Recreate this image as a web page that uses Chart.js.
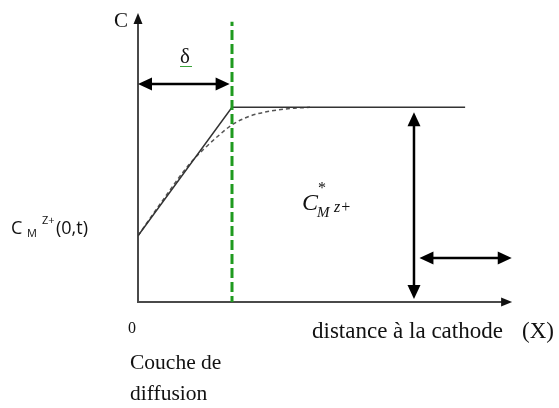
<!DOCTYPE html>
<html>
<head>
<meta charset="utf-8">
<script src="https://cdn.jsdelivr.net/npm/chart.js@4.4.1/dist/chart.umd.min.js"></script>
<style>
  html, body { margin: 0; padding: 0; background: #fff; }
  #wrap { width: 559px; height: 408px; position: relative; }
</style>
</head>
<body>
<div id="wrap"><canvas id="cChart"></canvas></div>
<script>
// concentration profile, x in units of delta, y in units of C*
const xSolid = [0, 1, 3.48];
const ySolid = [0.34, 1, 1];
const xDashed = [0, 0.23, 0.55, 0.71, 0.87, 1.0, 1.19, 1.4, 1.62, 1.83];
const yDashed = [0.34, 0.50, 0.71, 0.79, 0.86, 0.91, 0.955, 0.98, 0.994, 1.0];
const xDelta = [1, 1];
const yDelta = [-0.02, 1.44];

// arrows: [x1, y1, x2, y2, head at start, head at end]
const arrows = [
    [0, 1.12, 0.975, 1.12, true, true],     // delta
    [2.936, 0.975, 2.936, 0.015, true, true], // C*
    [2.994, 0.226, 3.976, 0.226, true, true]
];

function pts(xs, ys) {
    return xs.map((x, i) => ({x: x, y: ys[i]}));
}

function arrowHead(ctx, x1, y1, x2, y2, len, wid) {
    const a = Math.atan2(y2 - y1, x2 - x1);
    ctx.beginPath();
    ctx.moveTo(x2, y2);
    ctx.lineTo(x2 - len * Math.cos(a) + wid / 2 * Math.sin(a), y2 - len * Math.sin(a) - wid / 2 * Math.cos(a));
    ctx.lineTo(x2 - len * Math.cos(a) - wid / 2 * Math.sin(a), y2 - len * Math.sin(a) + wid / 2 * Math.cos(a));
    ctx.closePath();
    ctx.fill();
}

const diagram = {
    id: 'diagram',
    beforeDatasetsDraw(chart) {
        const ctx = chart.ctx;
        const sx = chart.scales.x, sy = chart.scales.y;
        const x0 = sx.getPixelForValue(0), y0 = sy.getPixelForValue(0);
        const xEnd = sx.getPixelForValue(3.98), yTop = sy.getPixelForValue(1.485);
        ctx.save();
        ctx.strokeStyle = '#4a4a4a';
        ctx.fillStyle = '#111';
        ctx.lineWidth = 2;
        ctx.beginPath();
        ctx.moveTo(x0, yTop + 8);
        ctx.lineTo(x0, y0);
        ctx.lineTo(xEnd - 8, y0);
        ctx.stroke();
        arrowHead(ctx, x0, y0, x0, yTop, 11, 9);
        arrowHead(ctx, x0, y0, xEnd, y0, 11, 9);
        ctx.restore();
    },
    afterDraw(chart) {
        const ctx = chart.ctx;
        const sx = chart.scales.x, sy = chart.scales.y;
        ctx.save();
        ctx.strokeStyle = '#000';
        ctx.fillStyle = '#000';
        ctx.lineWidth = 2.5;
        arrows.forEach(a => {
            const p1x = sx.getPixelForValue(a[0]), p1y = sy.getPixelForValue(a[1]);
            const p2x = sx.getPixelForValue(a[2]), p2y = sy.getPixelForValue(a[3]);
            const ang = Math.atan2(p2y - p1y, p2x - p1x);
            ctx.beginPath();
            ctx.moveTo(p1x + (a[4] ? 10 * Math.cos(ang) : 0), p1y + (a[4] ? 10 * Math.sin(ang) : 0));
            ctx.lineTo(p2x - (a[5] ? 10 * Math.cos(ang) : 0), p2y - (a[5] ? 10 * Math.sin(ang) : 0));
            ctx.stroke();
            if (a[4]) arrowHead(ctx, p2x, p2y, p1x, p1y, 14, 13);
            if (a[5]) arrowHead(ctx, p1x, p1y, p2x, p2y, 14, 13);
        });

        // labels
        ctx.fillStyle = '#111';
        ctx.textBaseline = 'alphabetic';
        ctx.font = '21px "Liberation Serif"';
        ctx.fillText('C', 114, 27);
        ctx.fillText('δ', 180, 63);
        ctx.font = '21.5px "Liberation Serif"';
        ctx.fillText('Couche de', 130, 369);
        ctx.fillText('diffusion', 130, 400);
        ctx.font = '23px "Liberation Serif"';
        ctx.fillText('distance à la cathode', 312, 338);
        ctx.fillText('(X)', 522, 338);
        ctx.font = '16px "Liberation Serif"';
        ctx.fillText('0', 128, 333);

        // spell-check squiggle under delta
        ctx.strokeStyle = '#3aa33a';
        ctx.lineWidth = 1;
        ctx.beginPath();
        for (let i = 0; i <= 12; i++) {
            const px = 180 + i, py = 66 + (i % 2 ? 1 : 0);
            if (i === 0) ctx.moveTo(px, py); else ctx.lineTo(px, py);
        }
        ctx.stroke();

        // bulk concentration C*_M^z+
        ctx.font = 'italic 24px "Liberation Serif"';
        ctx.fillText('C', 302, 210);
        ctx.font = 'italic 15px "Liberation Serif"';
        ctx.fillText('M', 317, 217);
        ctx.font = 'italic 16px "Liberation Serif"';
        ctx.fillText('z+', 334, 212);
        ctx.font = '16px "Liberation Serif"';
        ctx.fillText('*', 318, 193);

        // surface concentration C_M^Z+(0,t)
        ctx.font = '18px "Open Sans"';
        ctx.fillText('C', 11, 234);
        ctx.font = '11px "Open Sans"';
        ctx.fillText('M', 27, 237);
        ctx.fillText('Z+', 42, 224);
        ctx.font = '18px "Open Sans"';
        ctx.fillText('(0,t)', 56, 234);
        ctx.restore();
    }
};

const ctx2 = document.getElementById('cChart').getContext('2d');
const cChart = new Chart(ctx2, {
    type: 'scatter',
    data: {
        datasets: [{
            label: 'delta',
            data: pts(xDelta, yDelta),
            showLine: true,
            borderColor: '#1f9a1f',
            borderWidth: 3,
            borderDash: [10, 4],
            pointRadius: 0
        }, {
            label: 'linear',
            data: pts(xSolid, ySolid),
            showLine: true,
            borderColor: '#333',
            borderWidth: 1.5,
            pointRadius: 0
        }, {
            label: 'real',
            data: pts(xDashed, yDashed),
            showLine: true,
            borderColor: '#555',
            borderWidth: 1.5,
            borderDash: [4, 3],
            cubicInterpolationMode: 'monotone',
            pointRadius: 0
        }]
    },
    options: {
        responsive: true,
        maintainAspectRatio: false,
        animation: false,
        events: [],
        layout: {
            padding: {left: 138, right: 45, top: 10, bottom: 106}
        },
        plugins: {
            legend: {display: false},
            tooltip: {enabled: false}
        },
        scales: {
            x: {type: 'linear', min: 0, max: 4, display: false},
            y: {type: 'linear', min: 0, max: 1.5, display: false}
        }
    },
    plugins: [diagram]
});
</script>
</body>
</html>
